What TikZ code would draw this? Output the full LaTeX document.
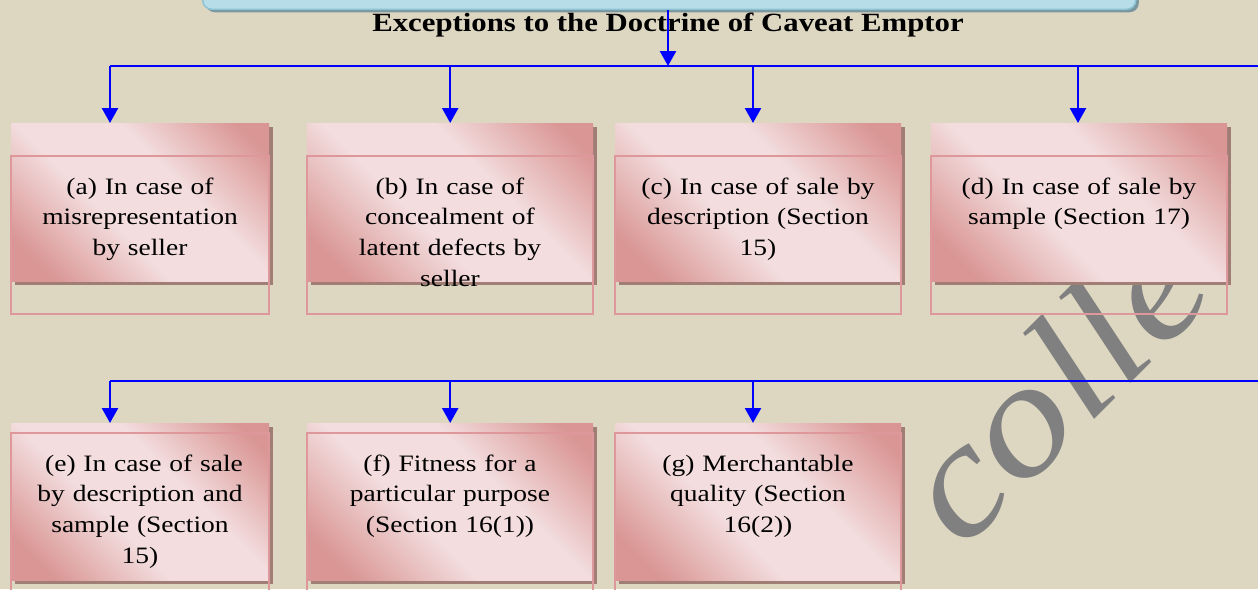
\documentclass[tikz,border=0pt]{standalone}
\usepackage{fontspec}
\setmainfont{Liberation Serif}[FakeStretch=1.17]
\usetikzlibrary{arrows.meta,shadows}
\definecolor{bg}{RGB}{221,215,194}
\definecolor{pinkdark}{RGB}{217,150,148}
\definecolor{pinklight}{RGB}{243,221,222}
\definecolor{pinkline}{RGB}{222,152,156}
\definecolor{boxshadow}{RGB}{160,126,118}
\definecolor{titlefill}{RGB}{183,222,232}
\definecolor{titleline}{RGB}{140,196,212}
\definecolor{titleshadow}{RGB}{122,150,158}
\definecolor{wmgray}{RGB}{128,128,128}
\definecolor{arrowblue}{RGB}{0,0,255}
\pgfdeclareverticalshading{pinkdiag}{100bp}{color(0bp)=(pinkdark); color(22bp)=(pinkdark); color(42bp)=(pinklight); color(60bp)=(pinklight); color(80bp)=(pinkdark); color(100bp)=(pinkdark)}
\begin{document}
\begin{tikzpicture}[x=1pt,y=-1pt,
  pinkbox/.style={anchor=north west, inner sep=0pt, draw=none,
     shading=pinkdiag, shading angle=-45,
     drop shadow={shadow xshift=4pt, shadow yshift=-4pt, fill=boxshadow, opacity=1}},
  outlinebox/.style={draw=pinkline, line width=2pt},
  boxtext/.style={anchor=base, align=center, inner sep=0pt, text width=300pt,
     font=\fontsize{23.5}{30.7}\selectfont, text=black},
  titlebox/.style={anchor=south west, inner sep=0pt, rounded corners=9pt,
     fill=titlefill, draw=titleline, line width=1.5pt,
     minimum width=933pt, minimum height=50pt,
     drop shadow={shadow xshift=3pt, shadow yshift=-3pt, fill=titleshadow, opacity=1}},
  titletext/.style={anchor=base, inner sep=0pt, font=\bfseries\fontsize{26.3}{30}\selectfont},
  watermark/.style={anchor=base west, inner sep=0pt, text=wmgray,
     font=\itshape\fontsize{160}{160}\selectfont},
  bus/.style={draw=arrowblue, line width=2.5pt},
  arr/.style={draw=arrowblue, line width=2.5pt, -{Triangle[width=16pt,length=15pt]}}
]
\useasboundingbox (0,0) rectangle (1258,589);
\clip (0,0) rectangle (1258,589);
\fill[bg] (0,0) rectangle (1258,589);

% watermark
\node[watermark, rotate=45] (wm) at (962,552) {colle};

% title
\node[titlebox] (tb) at (202,10) {};
\node[titletext] (tt) at (668,31) {Exceptions to the Doctrine of Caveat Emptor};

% row 1 boxes
\node[pinkbox, minimum width=258pt, minimum height=158pt] (a) at (11,123) {};
\node[pinkbox, minimum width=286pt, minimum height=158pt] (b) at (307,123) {};
\node[pinkbox, minimum width=286pt, minimum height=158pt] (c) at (615,123) {};
\node[pinkbox, minimum width=296pt, minimum height=158pt] (d) at (931,123) {};
\foreach \n in {a,b,c,d}{
  \draw[outlinebox] ([yshift=-33pt]\n.north west) rectangle ([yshift=-33pt]\n.south east);
}

% row 2 boxes
\node[pinkbox, minimum width=258pt, minimum height=157pt] (e) at (11,423) {};
\node[pinkbox, minimum width=286pt, minimum height=157pt] (f) at (307,423) {};
\node[pinkbox, minimum width=286pt, minimum height=157pt] (g) at (615,423) {};
\foreach \n in {e,f,g}{
  \draw[outlinebox] ([yshift=-10pt]\n.north west) rectangle ([yshift=-60pt]\n.south east);
}

% texts row 1
\node[boxtext] (ta) at (140,194) {(a) In case of\\ misrepresentation\hspace*{10pt}\\ by seller};
\node[boxtext] (tb2) at (450,194) {(b) In case of\\ concealment of\\ latent defects by\\ seller};
\node[boxtext] (tc) at (758,194) {(c) In case of sale by\\ description (Section\\ 15)};
\node[boxtext] (td) at (1079,194) {(d) In case of sale by\\ sample (Section 17)};
% texts row 2
\node[boxtext] (te) at (140,471) {\hspace*{8pt}(e) In case of sale\\ by description and\\ sample (Section\hspace*{32pt}\\ 15)};
\node[boxtext] (tf) at (450,471) {(f) Fitness for a\\ particular purpose\\ (Section 16(1))};
\node[boxtext] (tg) at (758,471) {(g) Merchantable\\ quality (Section\\ 16(2))};

% connectors row 1
\coordinate (j1) at (668,66);
\coordinate (s1) at (110,66);
\coordinate (e1) at (1270,66);
\draw[bus] (s1) -- (e1);
\draw[arr] (tb.south -| j1) -- (j1);
\draw[arr] (s1) -- (s1 |- a.north);
\draw[arr] (b.north |- j1) -- (b.north);
\coordinate (kc) at (753,66);
\draw[arr] (kc) -- (kc |- c.north);
\coordinate (kd) at (1078,66);
\draw[arr] (kd) -- (kd |- d.north);

% connectors row 2
\coordinate (s2) at (110,381);
\coordinate (e2) at (1270,381);
\draw[bus] (s2) -- (e2);
\draw[arr] (s2) -- (s2 |- e.north);
\draw[arr] (f.north |- s2) -- (f.north);
\coordinate (kg) at (753,381);
\draw[arr] (kg) -- (kg |- g.north);
\end{tikzpicture}
\end{document}
